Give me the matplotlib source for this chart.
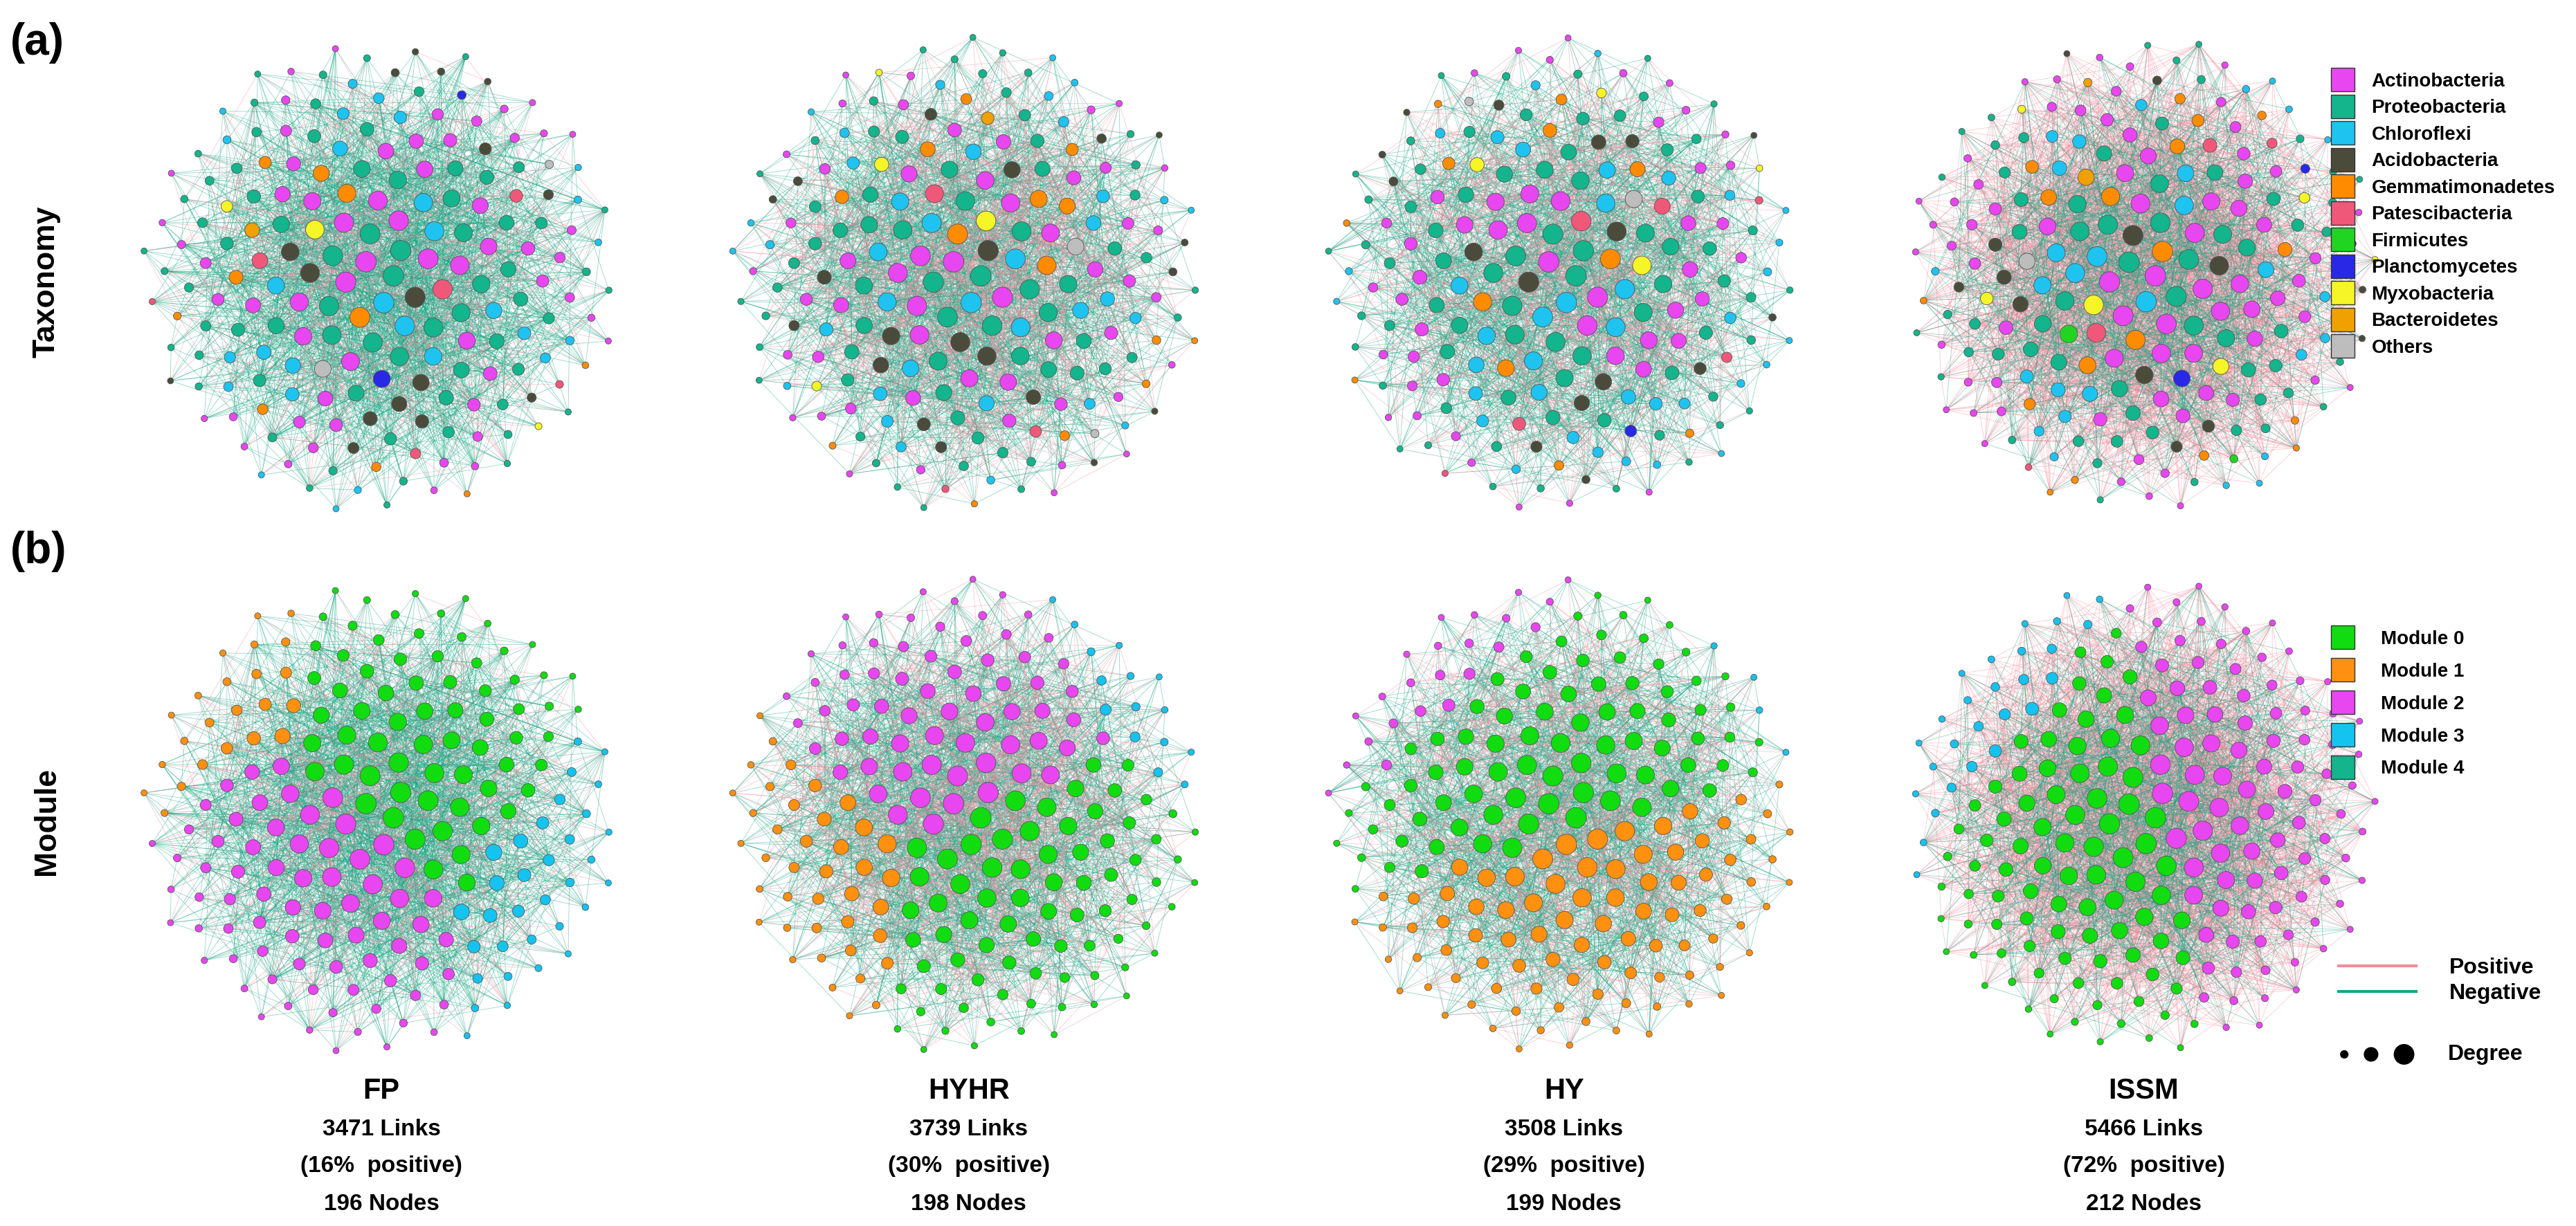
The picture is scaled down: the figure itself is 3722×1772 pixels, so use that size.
import numpy as np
import matplotlib
matplotlib.use("Agg")
import matplotlib.pyplot as plt
from matplotlib.collections import LineCollection
from matplotlib.lines import Line2D

networks = ["FP", "HYHR", "HY", "ISSM"]
links = [3471, 3739, 3508, 5466]
pos_pct = [16, 30, 29, 72]
nodes = [196, 198, 199, 212]

taxa = ["Actinobacteria", "Proteobacteria", "Chloroflexi", "Acidobacteria", "Gemmatimonadetes",
        "Patescibacteria", "Firmicutes", "Planctomycetes", "Myxobacteria", "Bacteroidetes", "Others"]
taxa_colors = ["#e846f0", "#14b48c", "#1ec3f0", "#4b4b3c", "#ff8c00", "#f0587a",
               "#22d422", "#2828e6", "#f5f528", "#f0a000", "#bdbdbd"]
taxa_counts = {
    "FP":   [58, 70, 28, 16, 10, 6, 0, 2, 3, 1, 2],
    "HYHR": [52, 66, 36, 20, 14, 3, 0, 0, 4, 1, 2],
    "HY":   [48, 72, 38, 16, 12, 6, 0, 1, 4, 0, 2],
    "ISSM": [70, 62, 30, 14, 18, 4, 2, 2, 6, 2, 2],
}
modules = ["Module 0", "Module 1", "Module 2", "Module 3", "Module 4"]
module_colors = ["#10dc10", "#ff9010", "#e846f0", "#14c3f0", "#14b48c"]
module_centres = {
    "FP":   {0: (0.25, 0.25), 1: (-1.0, 0.6), 2: (-0.35, -0.35), 3: (0.9, -0.2)},
    "HYHR": {0: (0.25, -0.35), 1: (-0.9, -0.3), 2: (-0.1, 0.45), 3: (0.95, 0.9)},
    "HY":   {0: (-0.05, 0.3), 1: (0.15, -0.45), 2: (-0.6, 0.9), 3: (1.2, 1.2)},
    "ISSM": {0: (-0.3, -0.05), 1: (1.3, 1.3), 2: (0.45, 0.1), 3: (-0.95, 0.4)},
}

fig = plt.figure(figsize=(37.23, 17.72), dpi=100)
plt.rcParams['font.family'] = ['Liberation Sans', 'DejaVu Sans']

xc = [0.148, 0.376, 0.607, 0.832]
yc = [0.775, 0.333]
R = 0.102
golden = np.pi * (3 - np.sqrt(5))

def layout(n):
    idx = np.arange(n)
    r = np.sqrt((idx + 0.5) / n)
    th = idx * golden
    return r * np.cos(th), r * np.sin(th)

def edges_for(n, total):
    pairs = []
    m = 1
    deg = (3 + 40 * (1 - np.arange(n) / n) ** 3).astype(int)
    while len(pairs) < total:
        for i in range(n):
            if len(pairs) >= total:
                break
            if m <= deg[i] or m % 5 == 0:
                span = max(int(n * (0.25 + 0.6 * ((m * 7) % 11) / 11)), 2)
                j = (i + 1 + (m * 37 + i * 13) % span) % n
                if j != i:
                    pairs.append((i, j))
        m += 1
    return pairs

for col, name in enumerate(networks):
    n = nodes[col]
    x, y = layout(n)
    pairs = edges_for(n, links[col] // 2)
    p = pos_pct[col] / 100
    segs_pos, segs_neg = [], []
    for k, (i, j) in enumerate(pairs):
        s = [(x[i], y[i]), (x[j], y[j])]
        if int((k + 1) * p) > int(k * p):
            segs_pos.append(s)
        else:
            segs_neg.append(s)
    size = 40 + 420 * (1 - np.arange(n) / n) ** 2
    cnt = np.array(taxa_counts[name], dtype=float)
    cnt = cnt / cnt.sum() * n
    tax_idx = []
    acc = np.zeros(len(cnt))
    for i in range(n):
        acc += cnt / n
        k = int(np.argmax(acc))
        acc[k] -= 1
        tax_idx.append(k)
    mc = module_centres[name]
    mod_idx = []
    for i in range(n):
        d = {m: (x[i] - c[0]) ** 2 + (y[i] - c[1]) ** 2 for m, c in mc.items()}
        mod_idx.append(min(d, key=d.get))
    for row in range(2):
        ax = fig.add_axes([xc[col] - R, yc[row] - R * 37.23 / 17.72, 2 * R, 2 * R * 37.23 / 17.72])
        ax.set_xlim(-1.1, 1.1); ax.set_ylim(-1.1, 1.1); ax.set_aspect('equal'); ax.axis('off')
        order = [segs_neg, segs_pos] if p < 0.5 else [segs_pos, segs_neg]
        cols = ["#17a683", "#f28b9c"] if p < 0.5 else ["#f28b9c", "#17a683"]
        for sg, c in zip(order, cols):
            ax.add_collection(LineCollection(sg, colors=c, linewidths=0.6, alpha=0.45))
        colors = [taxa_colors[t] for t in tax_idx] if row == 0 else [module_colors[m] for m in mod_idx]
        ax.scatter(x[::-1], y[::-1], s=size[::-1], c=colors[::-1], edgecolors="#555555", linewidths=0.6, zorder=3)
    fig.text(xc[col], 0.11, name, ha='center', va='center', fontsize=30, fontweight='bold')
    fig.text(xc[col], 0.079, f"{links[col]} Links", ha='center', va='center', fontsize=24, fontweight='bold')
    fig.text(xc[col], 0.049, f"({pos_pct[col]}%  positive)", ha='center', va='center', fontsize=24, fontweight='bold')
    fig.text(xc[col], 0.018, f"{nodes[col]} Nodes", ha='center', va='center', fontsize=24, fontweight='bold')

fig.text(0.004, 0.965, "(a)", fontsize=46, fontweight='bold', va='center')
fig.text(0.004, 0.55, "(b)", fontsize=46, fontweight='bold', va='center')
fig.text(0.018, 0.77, "Taxonomy", fontsize=32, fontweight='bold', rotation=90, ha='center', va='center')
fig.text(0.018, 0.33, "Module", fontsize=32, fontweight='bold', rotation=90, ha='center', va='center')

h1 = [Line2D([], [], marker='s', ls='', markersize=24, markerfacecolor=c, markeredgecolor='#333333') for c in taxa_colors]
fig.legend(h1, taxa, loc='upper left', bbox_to_anchor=(0.895, 0.955), frameon=False,
           prop={'size': 20, 'weight': 'bold'}, labelspacing=0.45, handletextpad=0.5)
h2 = [Line2D([], [], marker='s', ls='', markersize=24, markerfacecolor=c, markeredgecolor='#333333') for c in module_colors]
fig.legend(h2, modules, loc='upper left', bbox_to_anchor=(0.895, 0.50), frameon=False,
           prop={'size': 20, 'weight': 'bold'}, labelspacing=0.75, handletextpad=1.0)
h3 = [Line2D([], [], color="#f28b9c", lw=3), Line2D([], [], color="#17a683", lw=3)]
fig.legend(h3, ["Positive", "Negative"], loc='upper left', bbox_to_anchor=(0.9, 0.235), frameon=False,
           prop={'size': 23, 'weight': 'bold'}, labelspacing=0.2, handlelength=3.5, handletextpad=1.5)
lax = fig.add_axes([0.905, 0.12, 0.04, 0.04]); lax.axis('off')
lax.set_xlim(0, 1); lax.set_ylim(0, 1)
lax.scatter([0.12, 0.38, 0.7], [0.5, 0.5, 0.5], s=[60, 200, 420], c='black')
fig.text(0.95, 0.14, "Degree", fontsize=23, fontweight='bold', va='center')

fig.savefig("out.png", dpi=100)
